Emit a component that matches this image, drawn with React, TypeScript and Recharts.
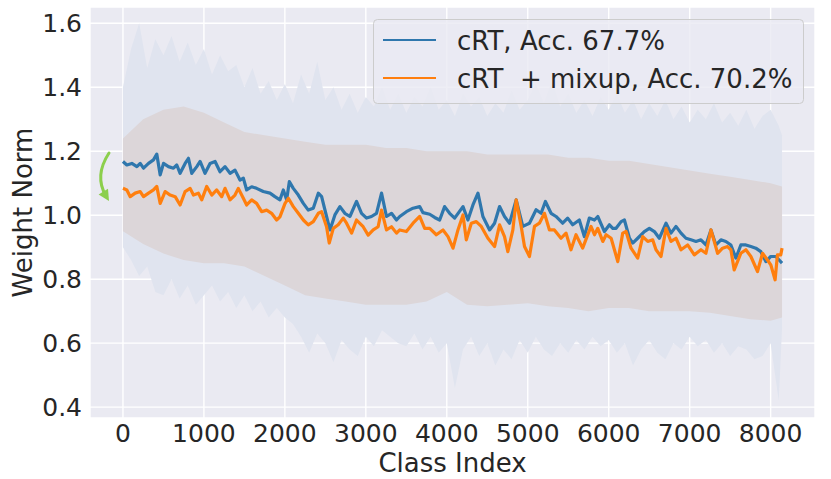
import {
  Area,
  CartesianGrid,
  ComposedChart,
  Label,
  Line,
  XAxis,
  YAxis,
} from "recharts";

// smoothed weight norms: [class index, norm]
const crt: [number, number][] = [
  [0, 1.168], [48, 1.157], [110, 1.162], [172, 1.152], [213, 1.162], [254, 1.147],
  [316, 1.162], [377, 1.173], [418, 1.191], [460, 1.126], [501, 1.162], [562, 1.152],
  [624, 1.147], [665, 1.157], [706, 1.131], [768, 1.162], [809, 1.178], [850, 1.131],
  [912, 1.152], [953, 1.168], [1014, 1.131], [1076, 1.162], [1138, 1.168], [1199, 1.136],
  [1261, 1.152], [1323, 1.131], [1384, 1.141], [1446, 1.11], [1487, 1.116], [1528, 1.079],
  [1590, 1.089], [1651, 1.084], [1733, 1.074], [1816, 1.069], [1877, 1.058], [1939, 1.048],
  [1981, 1.079], [2022, 1.048], [2055, 1.105], [2104, 1.084], [2166, 1.063], [2228, 1.037],
  [2289, 1.016], [2351, 1.022], [2413, 1.069], [2454, 1.058], [2515, 0.996], [2557, 0.954],
  [2618, 1.001], [2680, 1.027], [2741, 1.006], [2803, 0.996], [2885, 1.043], [2947, 1.006],
  [3009, 0.991], [3070, 0.996], [3132, 1.006], [3194, 1.069], [3255, 0.996], [3317, 1.006],
  [3379, 0.985], [3419, 0.996], [3501, 1.011], [3583, 1.022], [3665, 1.027], [3706, 1.008],
  [3789, 1.003], [3850, 0.993], [3912, 0.985], [3973, 1.027], [4035, 1.006], [4097, 0.991],
  [4200, 1.027], [4261, 0.985], [4323, 1.032], [4385, 1.069], [4446, 0.996], [4529, 0.954],
  [4590, 0.975], [4652, 1.027], [4713, 0.996], [4775, 0.975], [4857, 1.048], [4939, 0.965],
  [5021, 0.975], [5103, 1.017], [5165, 1.006], [5218, 1.043], [5288, 1.006], [5349, 0.996],
  [5431, 0.975], [5493, 0.991], [5555, 0.97], [5637, 0.985], [5699, 0.933], [5760, 0.991],
  [5824, 0.985], [5865, 0.996], [5947, 0.949], [6009, 0.97], [6050, 0.959], [6091, 0.959],
  [6153, 0.98], [6194, 0.985], [6256, 0.928], [6297, 0.913], [6358, 0.928], [6440, 0.949],
  [6502, 0.959], [6564, 0.949], [6625, 0.928], [6708, 0.975], [6769, 0.944], [6831, 0.965],
  [6893, 0.944], [6954, 0.928], [7016, 0.923], [7078, 0.918], [7139, 0.923], [7201, 0.907],
  [7263, 0.954], [7324, 0.907], [7386, 0.923], [7447, 0.918], [7509, 0.907], [7571, 0.866],
  [7632, 0.907], [7694, 0.907], [7756, 0.902], [7817, 0.897], [7879, 0.886], [7941, 0.855],
  [8002, 0.871], [8064, 0.871], [8105, 0.86], [8141, 0.85],
];

const crtMixup: [number, number][] = [
  [0, 1.084], [48, 1.079], [90, 1.058], [151, 1.069], [213, 1.074], [254, 1.058],
  [316, 1.069], [377, 1.079], [418, 1.09], [460, 1.037], [521, 1.074], [583, 1.063],
  [645, 1.058], [706, 1.032], [768, 1.074], [830, 1.084], [871, 1.063], [932, 1.069],
  [973, 1.048], [1035, 1.09], [1097, 1.063], [1158, 1.079], [1220, 1.058], [1261, 1.084],
  [1323, 1.048], [1384, 1.063], [1425, 1.084], [1487, 1.053], [1528, 1.032], [1590, 1.048],
  [1651, 1.037], [1713, 1.011], [1775, 1.016], [1836, 1.006], [1898, 0.985], [1939, 0.995],
  [2002, 1.037], [2043, 1.053], [2104, 1.027], [2166, 1.006], [2228, 0.985], [2289, 0.97],
  [2351, 0.98], [2413, 1.006], [2454, 1.011], [2515, 0.964], [2548, 0.913], [2598, 0.959],
  [2659, 0.97], [2721, 0.991], [2762, 0.975], [2824, 0.944], [2885, 0.985], [2967, 0.964],
  [3029, 0.938], [3091, 0.954], [3152, 0.964], [3194, 1.016], [3255, 0.954], [3317, 0.964],
  [3379, 0.944], [3419, 0.954], [3501, 0.949], [3583, 0.975], [3665, 0.996], [3727, 0.959],
  [3789, 0.959], [3871, 0.939], [3953, 0.954], [4015, 0.933], [4077, 0.897], [4138, 0.954],
  [4200, 1.001], [4241, 0.923], [4303, 0.975], [4364, 0.98], [4426, 0.965], [4508, 0.928],
  [4590, 0.902], [4652, 0.97], [4713, 0.933], [4754, 0.886], [4816, 0.954], [4857, 1.048],
  [4919, 0.965], [4960, 0.902], [5021, 0.871], [5083, 0.965], [5144, 0.975], [5206, 1.006],
  [5268, 0.954], [5329, 0.954], [5411, 0.928], [5473, 0.944], [5534, 0.892], [5596, 0.939],
  [5678, 0.897], [5781, 0.965], [5824, 0.939], [5865, 0.959], [5927, 0.918], [5968, 0.939],
  [6030, 0.928], [6112, 0.855], [6173, 0.944], [6214, 0.949], [6276, 0.897], [6358, 0.866],
  [6420, 0.933], [6482, 0.918], [6543, 0.923], [6584, 0.892], [6646, 0.871], [6708, 0.959],
  [6769, 0.918], [6831, 0.928], [6893, 0.892], [6975, 0.907], [7057, 0.876], [7139, 0.892],
  [7201, 0.881], [7263, 0.954], [7345, 0.881], [7406, 0.897], [7468, 0.902], [7509, 0.892],
  [7550, 0.829], [7632, 0.881], [7694, 0.892], [7756, 0.871], [7838, 0.824], [7900, 0.881],
  [7961, 0.86], [8002, 0.845], [8055, 0.798], [8084, 0.876], [8125, 0.876], [8141, 0.897],
];

// faint raw per-class norms: [class index, low, high] of the sparse spikes
const rawSpikes: [number, number, number][] = [
  [0, 0.9, 1.4], [100, 0.86, 1.52], [200, 0.81, 1.6], [300, 0.84, 1.46], [400, 0.76, 1.55],
  [500, 0.75, 1.5], [600, 0.8, 1.56], [700, 0.74, 1.48], [800, 0.78, 1.54], [900, 0.72, 1.47],
  [1000, 0.75, 1.52], [1100, 0.78, 1.44], [1200, 0.73, 1.5], [1300, 0.76, 1.45], [1400, 0.71, 1.47],
  [1500, 0.75, 1.4], [1600, 0.7, 1.46], [1700, 0.73, 1.38], [1800, 0.68, 1.42], [1900, 0.71, 1.36],
  [2000, 0.68, 1.41], [2100, 0.66, 1.35], [2200, 0.62, 1.44], [2300, 0.57, 1.38], [2400, 0.63, 1.48],
  [2500, 0.6, 1.36], [2600, 0.54, 1.4], [2700, 0.61, 1.33], [2800, 0.58, 1.38], [2900, 0.56, 1.32],
  [3000, 0.62, 1.37], [3100, 0.59, 1.34], [3200, 0.64, 1.4], [3300, 0.62, 1.33], [3400, 0.6, 1.38],
  [3500, 0.59, 1.32], [3600, 0.63, 1.37], [3700, 0.58, 1.34], [3800, 0.62, 1.4], [3900, 0.57, 1.33],
  [4000, 0.6, 1.36], [4100, 0.46, 1.31], [4200, 0.58, 1.38], [4300, 0.62, 1.34], [4400, 0.56, 1.37],
  [4500, 0.6, 1.31], [4600, 0.53, 1.35], [4700, 0.58, 1.32], [4800, 0.55, 1.39], [4900, 0.61, 1.33],
  [5000, 0.57, 1.36], [5100, 0.62, 1.41], [5200, 0.58, 1.35], [5300, 0.56, 1.42], [5400, 0.6, 1.34],
  [5500, 0.57, 1.38], [5600, 0.61, 1.32], [5700, 0.58, 1.36], [5800, 0.62, 1.31], [5900, 0.59, 1.37],
  [6000, 0.61, 1.33], [6100, 0.57, 1.38], [6200, 0.6, 1.32], [6300, 0.53, 1.36], [6400, 0.58, 1.3],
  [6500, 0.61, 1.35], [6600, 0.57, 1.31], [6700, 0.55, 1.36], [6800, 0.6, 1.3], [6900, 0.58, 1.34],
  [7000, 0.62, 1.29], [7100, 0.59, 1.33], [7200, 0.61, 1.3], [7300, 0.57, 1.35], [7400, 0.6, 1.29],
  [7500, 0.56, 1.32], [7600, 0.59, 1.28], [7700, 0.58, 1.33], [7800, 0.55, 1.27], [7900, 0.56, 1.31],
  [8000, 0.6, 1.33], [8100, 0.42, 1.28], [8141, 0.65, 1.25],
];

// dense part of the raw norms: [class index, low, high]
const rawDense: [number, number, number][] = [
  [0, 0.95, 1.24], [250, 0.91, 1.3], [500, 0.88, 1.33], [750, 0.86, 1.34], [1000, 0.85, 1.32],
  [1250, 0.85, 1.29], [1500, 0.84, 1.26], [1750, 0.81, 1.25], [2000, 0.78, 1.24], [2250, 0.75, 1.23],
  [2500, 0.74, 1.22], [2750, 0.73, 1.22], [3000, 0.72, 1.22], [3250, 0.72, 1.21], [3500, 0.72, 1.21],
  [3750, 0.73, 1.2], [4000, 0.76, 1.2], [4250, 0.72, 1.2], [4500, 0.715, 1.19], [4750, 0.72, 1.19],
  [5000, 0.725, 1.19], [5250, 0.715, 1.19], [5500, 0.71, 1.18], [5750, 0.7, 1.18], [6000, 0.71, 1.17],
  [6250, 0.71, 1.17], [6500, 0.7, 1.16], [6750, 0.7, 1.15], [7000, 0.7, 1.14], [7250, 0.695, 1.13],
  [7500, 0.685, 1.12], [7750, 0.675, 1.11], [8000, 0.67, 1.1], [8141, 0.68, 1.09],
];

const xTicks = [0, 1000, 2000, 3000, 4000, 5000, 6000, 7000, 8000];
const yTicks = [0.4, 0.6, 0.8, 1.0, 1.2, 1.4, 1.6];
const seriesNames = ["cRT, Acc. 67.7%", "cRT  + mixup, Acc. 70.2%"];
const seriesColors = ["#2f77ad", "#ff7f0e"];

const toLine = (pts: [number, number][]) => pts.map(([c, v]) => ({ c, v }));
const toBand = (pts: [number, number, number][]) =>
  pts.map(([c, lo, hi]) => ({ c, r: [lo, hi] }));

const FONT = "DejaVu Sans";
const INK = "#262626";

export default function App() {
  return (
    <div style={{ position: "relative", width: 831, height: 479, background: "#fff" }}>
      <style>{"body{margin:0}"}</style>
      <ComposedChart width={831} height={479} margin={{ top: 7, right: 16, bottom: 0, left: 0 }}>
        <CartesianGrid fill="#EAEAF2" stroke="#ffffff" strokeWidth={1.4} />
        <XAxis
          type="number"
          dataKey="c"
          domain={[-407, 8548]}
          allowDataOverflow
          ticks={xTicks}
          axisLine={false}
          tickLine={false}
          tickSize={0}
          tickMargin={6}
          height={61}
          tick={{ fill: INK, fontSize: 25, fontFamily: FONT }}
        >
          <Label
            position="insideBottom"
            offset={7}
            value="Class Index"
            fill={INK}
            fontSize={26}
            fontFamily={FONT}
          />
        </XAxis>
        <YAxis
          type="number"
          domain={[0.366, 1.651]}
          allowDataOverflow
          ticks={yTicks}
          tickFormatter={(v) => v.toFixed(1)}
          axisLine={false}
          tickLine={false}
          tickSize={0}
          tickMargin={8}
          width={90}
          tick={{ fill: INK, fontSize: 25, fontFamily: FONT }}
        >
          <Label
            content={({ viewBox }: any) => {
              const cy = viewBox.y + viewBox.height / 2;
              const x = viewBox.x + 32;
              return (
                <text
                  x={x}
                  y={cy}
                  transform={`rotate(-90 ${x} ${cy})`}
                  textAnchor="middle"
                  fill={INK}
                  fontSize={26}
                  fontFamily={FONT}
                >
                  Weight Norm
                </text>
              );
            }}
          />
        </YAxis>
        <Area
          data={toBand(rawSpikes)}
          dataKey="r"
          type="linear"
          stroke="none"
          fill="#e0e4ef"
          fillOpacity={1}
          isAnimationActive={false}
        />
        <Area
          data={toBand(rawDense)}
          dataKey="r"
          type="linear"
          stroke="none"
          fill="#dcd6d9"
          fillOpacity={1}
          isAnimationActive={false}
        />
        <Line
          data={toLine(crt)}
          dataKey="v"
          type="linear"
          stroke={seriesColors[0]}
          strokeWidth={3.2}
          strokeLinejoin="round"
          dot={false}
          activeDot={false}
          isAnimationActive={false}
        />
        <Line
          data={toLine(crtMixup)}
          dataKey="v"
          type="linear"
          stroke={seriesColors[1]}
          strokeWidth={3.2}
          strokeLinejoin="round"
          dot={false}
          activeDot={false}
          isAnimationActive={false}
        />
      </ComposedChart>

      {/* legend box and the green arrow drawn on top */}
      <svg
        width={831}
        height={479}
        style={{ position: "absolute", left: 0, top: 0, pointerEvents: "none" }}
      >
        <rect x={373.5} y={19.5} width={430} height={84} rx={4} fill="#EAEAF2" fillOpacity={0.8} stroke="#cccccc" />
        {seriesNames.map((name, i) => (
          <g key={name}>
            <line x1={383} x2={436} y1={40 + i * 38} y2={40 + i * 38} stroke={seriesColors[i]} strokeWidth={2} />
            <text
              x={457}
              y={49.5 + i * 38}
              fill={INK}
              fontSize={26}
              fontFamily={FONT}
              xmlSpace="preserve"
              style={{ whiteSpace: "pre" }}
            >
              {name}
            </text>
          </g>
        ))}
        <path d="M 109 153 Q 94 176 106 196" fill="none" stroke="#8ccf4d" strokeWidth={3} strokeLinecap="round" />
        <polygon points="109,201 108,188.8 98.6,194.4" fill="#8ccf4d" />
      </svg>
    </div>
  );
}
